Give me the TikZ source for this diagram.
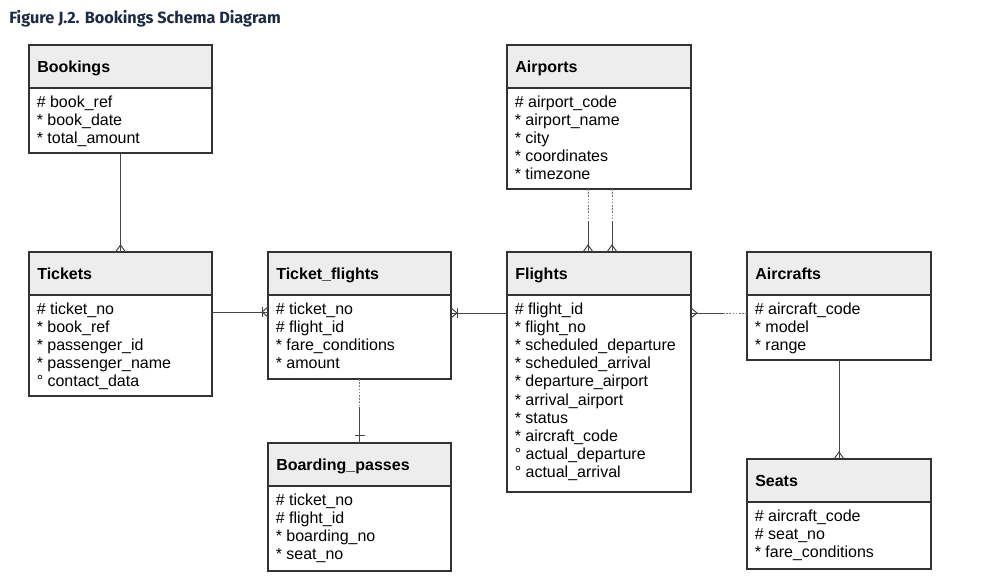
\documentclass[tikz,border=0pt]{standalone}
\usepackage{fontspec}
\setmainfont{Liberation Sans}
\newfontfamily\titlefont{Fira Sans}
\usetikzlibrary{calc}
\definecolor{hdr}{HTML}{EDEDED}
\definecolor{bord}{HTML}{333333}
\definecolor{conn}{HTML}{444444}
\definecolor{dotc}{HTML}{777777}
\definecolor{ttl}{HTML}{1E2B45}
\tikzset{
  ebox/.style={draw=bord, line width=0.85pt, fill=white, inner sep=0pt, outer sep=0pt, anchor=north west},
  hdrfill/.style={fill=hdr, draw=bord, line width=0.85pt},
  ttext/.style={font=\fontsize{12}{14}\selectfont\bfseries, anchor=base west, inner sep=0pt},
  rtext/.style={font=\fontsize{12}{14}\selectfont, anchor=base west, inner sep=0pt},
  rel/.style={draw=conn, line width=0.75pt},
  dotrel/.style={draw=dotc, line width=0.75pt, dash pattern=on 1.2pt off 1.2pt},
}
\newcommand\entity[7]{%
  \node[ebox, minimum width={#4*0.75pt}, minimum height={#5*0.75pt}] (#1) at (#2,#3) {};
  \filldraw[hdrfill] (#2,#3) rectangle ({#2+#4},{#3+43});
  \node[ttext] (#1-t) at ({#2+8},{#3+27}) {#6};
  \foreach \r [count=\i from 0] in {#7} {\node[rtext] (#1-\i) at ({#2+7.5},{#3+62+\i*18.2}) {\r};}
}
\newcommand\crowdown[1]{\draw[rel] ($(#1)+(-5,0)$) -- ($(#1)+(0,-7)$) -- ($(#1)+(5,0)$);}
\newcommand\crowfromleft[1]{\draw[rel] ($(#1)+(0,-5)$) -- ($(#1)+(-6,0)$) -- ($(#1)+(0,5)$);}
\newcommand\crowfromright[1]{\draw[rel] ($(#1)+(0,-5)$) -- ($(#1)+(6,0)$) -- ($(#1)+(0,5)$);}
\begin{document}
\begin{tikzpicture}[x=0.75pt,y=-0.75pt]
\useasboundingbox[fill=white] (0,0) rectangle (987,586);
\node[anchor=base west, inner sep=0pt, font=\titlefont\bfseries\fontsize{12.2}{14}\selectfont, text=ttl] (title) at (9,23) {Figure J.2. Bookings Schema Diagram};

\entity{bk}{29}{45}{183}{108}{Bookings}{\# book\_ref, * book\_date, * total\_amount}
\entity{ap}{507}{45}{184}{144}{Airports}{\# airport\_code, * airport\_name, * city, * coordinates, * timezone}
\entity{tk}{29}{252}{183}{144}{Tickets}{\# ticket\_no, * book\_ref, * passenger\_id, * passenger\_name, ° contact\_data}
\entity{tf}{268}{252}{183}{127}{Ticket\_flights}{\# ticket\_no, \# flight\_id, * fare\_conditions, * amount}
\entity{fl}{507}{252}{184}{240}{Flights}{\# flight\_id, * flight\_no, * scheduled\_departure, * scheduled\_arrival, * departure\_airport, * arrival\_airport, * status, * aircraft\_code, ° actual\_departure, ° actual\_arrival}
\entity{ac}{747}{252}{184}{108}{Aircrafts}{\# aircraft\_code, * model, * range}
\entity{bp}{268}{443}{183}{128}{Boarding\_passes}{\# ticket\_no, \# flight\_id, * boarding\_no, * seat\_no}
\entity{st}{747}{459}{184}{110}{Seats}{\# aircraft\_code, \# seat\_no, * fare\_conditions}

% Bookings - Tickets
\draw[rel] (bk.south) -- (tk.north);
\crowdown{tk.north}

% Tickets - Ticket_flights
\coordinate (c1) at ($(tk.north east)+(0,60)$);
\coordinate (c1e) at (c1 -| tf.west);
\draw[rel] (c1) -- (c1e);
\crowfromleft{c1e}
\draw[rel] ($(c1e)+(-6,-5)$) -- ($(c1e)+(-6,5)$);

% Ticket_flights - Flights
\coordinate (c2) at ($(tf.north east)+(0,61)$);
\coordinate (c2e) at (c2 -| fl.west);
\draw[rel] (c2) -- (c2e);
\crowfromright{c2}
\draw[rel] ($(c2)+(6,-5)$) -- ($(c2)+(6,5)$);

% Airports - Flights (two relations)
\coordinate (a1) at ($(ap.south)+(-11,0)$);
\coordinate (a1m) at ($(a1)+(0,33)$);
\coordinate (a1e) at (a1 |- fl.north);
\draw[dotrel] (a1) -- (a1m);
\draw[rel] (a1m) -- (a1e);
\crowdown{a1e}
\coordinate (a2) at ($(ap.south)+(13,0)$);
\coordinate (a2m) at ($(a2)+(0,33)$);
\coordinate (a2e) at (a2 |- fl.north);
\draw[dotrel] (a2) -- (a2m);
\draw[rel] (a2m) -- (a2e);
\crowdown{a2e}

% Flights - Aircrafts
\coordinate (c3) at ($(fl.north east)+(0,61)$);
\coordinate (c3m) at ($(c3)+(32,0)$);
\coordinate (c3e) at (c3 -| ac.west);
\draw[rel] (c3) -- (c3m);
\draw[dotrel] (c3m) -- (c3e);
\crowfromright{c3}

% Ticket_flights - Boarding_passes
\coordinate (b1m) at ($(tf.south)+(0,28)$);
\draw[dotrel] (tf.south) -- (b1m);
\draw[rel] (b1m) -- (bp.north);
\draw[rel] ($(bp.north)+(-5,-8)$) -- ($(bp.north)+(5,-8)$);

% Aircrafts - Seats
\draw[rel] (ac.south) -- (st.north);
\crowdown{st.north}
\end{tikzpicture}
\end{document}
